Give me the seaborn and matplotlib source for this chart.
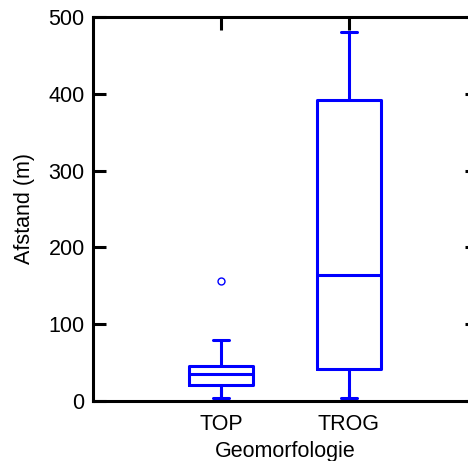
import numpy as np
import pandas as pd
import matplotlib
matplotlib.use("Agg")
import matplotlib.pyplot as plt
import seaborn as sns

categories = ["TOP", "TROG"]
top_values = [4, 12, 21, 28, 35, 40, 45, 79, 156]
trog_values = [4, 20, 42, 100, 164, 300, 392, 450, 480]
y_ticks = [0, 100, 200, 300, 400, 500]

df = pd.DataFrame({
    "Geomorfologie": ["TOP"] * len(top_values) + ["TROG"] * len(trog_values),
    "Afstand": top_values + trog_values,
})

sns.set_style("ticks")
plt.rcParams['font.family'] = ['Liberation Sans', 'DejaVu Sans']
plt.rcParams['text.color'] = 'black'
plt.rcParams['axes.labelcolor'] = 'black'
plt.rcParams['xtick.color'] = 'black'
plt.rcParams['ytick.color'] = 'black'

fig = plt.figure(figsize=(4.68, 4.61), dpi=100)
ax = fig.add_axes([93 / 468, 60 / 461, 384 / 468, 384 / 461])

sns.boxplot(
    data=df, x="Geomorfologie", y="Afstand", order=categories,
    color="blue", fill=False, width=0.5, linewidth=2.2,
    whis=1.5,
    flierprops=dict(marker='o', markersize=5, markeredgewidth=1,
                    markerfacecolor='none', markeredgecolor='blue'),
    capwidths=0.12,
    ax=ax,
)

ax.set_xlim(-1, 2)
ax.set_ylim(0, 500)
ax.set_yticks(y_ticks)
ax.set_xticks([0, 1])
ax.set_xticklabels(categories)

for s in ax.spines.values():
    s.set_visible(True)
    s.set_color("black")
    s.set_linewidth(2.2)

ax.tick_params(axis="both", direction="in", top=True, right=True,
               length=9, width=2.2, color="black", labelcolor="black")
ax.tick_params(axis="y", labelsize=15.5, pad=6)
ax.tick_params(axis="x", labelsize=15.5, pad=9)

ax.set_xlabel("Geomorfologie", fontsize=15.5, labelpad=5, color="black")
ax.set_ylabel("Afstand (m)", fontsize=15.5, labelpad=10, color="black")

fig.savefig("out.png", dpi=100)
